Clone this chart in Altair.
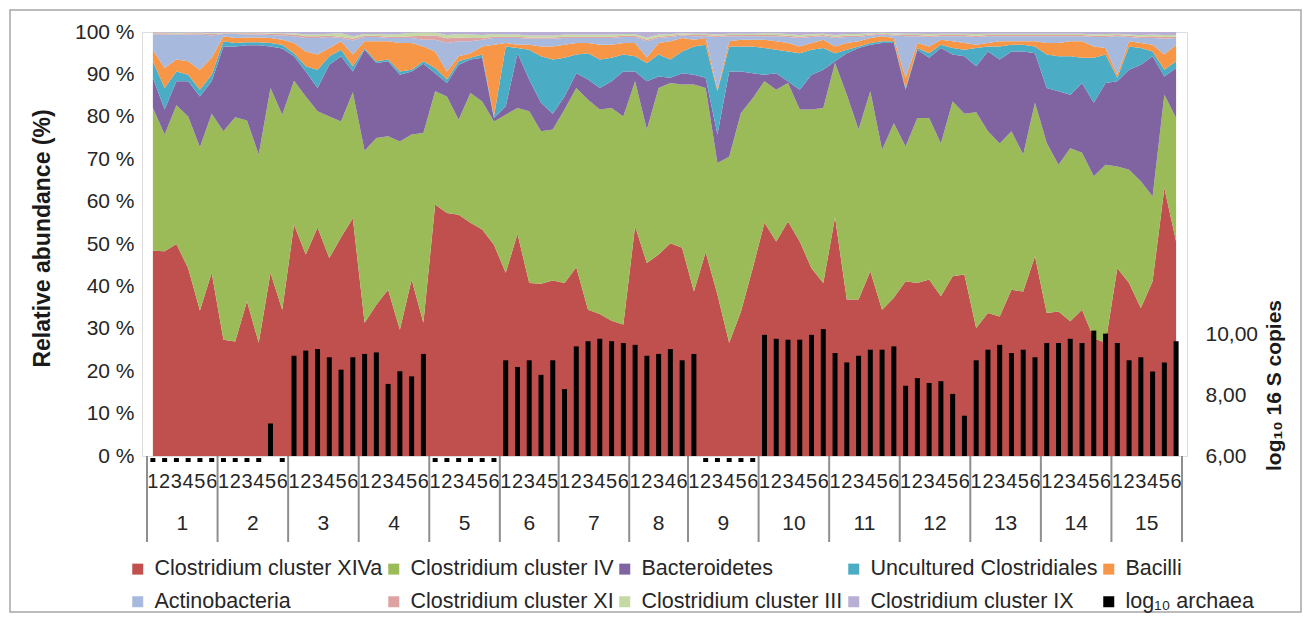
import altair as alt
import pandas as pd

# ---------------- data ----------------
series_names = ["Clostridium cluster XIVa", "Clostridium cluster IV", "Bacteroidetes",
                "Uncultured Clostridiales", "Bacilli", "Actinobacteria",
                "Clostridium cluster XI", "Clostridium cluster III", "Clostridium cluster IX"]
archaea_name = "log₁₀ archaea"
series_colors = ["#C0504D", "#9BBB59", "#8064A2", "#4BACC6", "#F79646",
                 "#A7B9DC", "#DDA3A2", "#C5D9A5", "#B9AED3"]
archaea_color = "#000000"

group_names = [str(i) for i in range(1, 16)]
group_sizes = [6, 6, 6, 6, 6, 5, 6, 5, 6, 6, 6, 6, 6, 6, 6]
sample_labels = [1, 2, 3, 4, 5, 6, 1, 2, 3, 4, 5, 6, 1, 2, 3, 4, 5, 6,
                 1, 2, 3, 4, 5, 6, 1, 2, 3, 4, 5, 6, 1, 2, 3, 4, 5,
                 1, 2, 3, 4, 5, 6, 1, 2, 3, 4, 6,
                 1, 2, 3, 4, 5, 6, 1, 2, 3, 4, 5, 6, 1, 2, 3, 4, 5, 6,
                 1, 2, 3, 4, 5, 6, 1, 2, 3, 4, 5, 6, 1, 2, 3, 4, 5, 6,
                 1, 2, 3, 4, 5, 6]

# cumulative upper edges (%) of each stacked layer, read per sample
top_xiva = [48.4, 48.3, 50.0, 44.3, 34.3, 43.2, 27.4, 27.0, 36.5, 26.7, 43.2, 34.5, 54.6, 47.5, 53.9, 46.7, 51.6, 56.1, 31.4, 35.7, 39.2, 29.8,
            41.6, 31.4, 59.3, 57.3, 56.9, 55.0, 53.4, 49.8, 43.2, 52.4, 40.8, 40.6, 41.4, 40.8, 44.5, 34.5, 33.5, 31.9, 31.0, 54.2, 45.5, 47.5,
            50.2, 49.1, 38.8, 48.1, 38.1, 26.7, 34.1, 44.3, 55.0, 50.6, 55.3, 50.6, 44.3, 40.8, 56.3, 36.9, 36.9, 43.6, 34.5, 37.3, 41.2, 40.8,
            41.6, 37.7, 42.4, 42.8, 30.2, 33.7, 32.9, 39.2, 38.8, 47.1, 33.7, 34.1, 31.8, 34.5, 27.8, 26.7, 44.3, 40.8, 34.9, 41.2, 63.2, 50.6]
top_iv = [82.1, 75.8, 82.7, 80.1, 72.8, 80.7, 76.6, 79.9, 79.1, 71.1, 86.8, 80.5, 88.5, 84.8, 81.3, 80.1, 78.9, 85.8, 72.0, 75.0, 75.4, 74.2,
          75.8, 76.2, 86.0, 84.8, 79.3, 85.6, 83.6, 78.9, 80.5, 82.1, 81.3, 76.6, 77.0, 81.7, 86.8, 84.0, 81.7, 82.1, 80.1, 88.4, 77.0, 86.8,
          88.0, 87.6, 87.6, 86.8, 69.1, 70.6, 80.9, 84.4, 88.4, 86.4, 88.0, 81.7, 81.7, 82.1, 92.7, 85.2, 77.0, 86.0, 72.2, 78.5, 73.0, 79.7,
          79.7, 73.7, 83.6, 80.7, 81.1, 76.6, 73.7, 76.6, 71.1, 83.3, 73.8, 68.7, 72.6, 71.5, 66.0, 68.7, 68.3, 67.5, 64.8, 61.2, 85.2, 79.7]
top_bact = [89.2, 81.7, 88.4, 88.4, 84.8, 88.4, 96.6, 96.6, 96.9, 96.9, 96.6, 96.1, 94.3, 90.7, 86.8, 92.3, 94.3, 90.7, 95.8, 92.7, 93.1, 89.9,
            90.7, 92.5, 90.3, 88.0, 92.3, 93.5, 93.9, 79.7, 82.5, 95.0, 88.8, 83.3, 80.7, 84.8, 90.3, 88.8, 86.8, 88.4, 90.7, 90.7, 88.4, 89.5,
            89.2, 90.3, 89.9, 89.2, 75.8, 90.7, 90.7, 90.3, 89.9, 90.3, 88.4, 86.4, 89.9, 91.1, 93.1, 95.0, 96.2, 97.0, 97.4, 97.4, 86.4, 95.8,
            93.9, 96.2, 94.7, 94.3, 91.9, 95.4, 93.5, 95.4, 95.4, 95.0, 86.8, 86.0, 85.2, 88.0, 83.3, 88.0, 88.4, 91.1, 92.3, 94.3, 89.5, 91.5]
top_uncult = [93.1, 86.8, 90.7, 89.9, 86.4, 89.9, 97.8, 97.4, 97.6, 97.6, 97.4, 97.0, 95.0, 91.9, 91.1, 94.3, 95.8, 91.9, 96.1, 93.1, 93.5, 90.7,
              91.1, 93.1, 91.5, 88.8, 93.1, 93.9, 94.7, 80.1, 96.6, 96.2, 95.8, 94.3, 93.5, 93.9, 94.7, 95.0, 93.5, 93.9, 94.7, 94.3, 92.7, 94.7,
              93.5, 95.4, 96.6, 97.0, 86.0, 96.6, 96.6, 96.6, 96.2, 95.8, 95.4, 95.0, 95.8, 96.2, 95.0, 95.8, 96.6, 97.4, 97.8, 97.8, 86.8, 96.2,
              95.0, 97.0, 96.2, 95.8, 96.2, 96.6, 96.6, 97.0, 97.0, 96.6, 94.7, 94.3, 94.3, 93.9, 93.9, 94.7, 89.2, 96.6, 96.2, 95.4, 91.1, 93.1]
top_bacilli = [95.8, 91.5, 93.5, 93.1, 91.1, 93.9, 99.0, 98.6, 98.7, 98.7, 98.6, 98.2, 97.4, 95.4, 94.7, 96.2, 97.8, 94.7, 97.8, 97.8, 97.8, 97.4,
               97.4, 96.6, 95.4, 90.7, 94.3, 95.0, 96.6, 97.0, 97.4, 97.0, 97.0, 96.6, 96.6, 97.0, 97.4, 97.4, 97.0, 97.0, 97.4, 97.4, 94.0, 97.4,
               97.8, 98.6, 98.2, 98.6, 86.4, 97.8, 98.2, 98.2, 98.2, 97.8, 97.4, 96.6, 97.4, 98.2, 96.6, 97.4, 97.8, 98.6, 99.0, 98.6, 89.2, 97.4,
               96.6, 98.2, 97.8, 97.4, 97.0, 97.4, 97.8, 97.8, 97.8, 97.8, 97.4, 97.4, 97.8, 97.8, 96.6, 96.2, 89.9, 97.8, 97.4, 97.0, 94.7, 97.0]
top_actino = [99.4, 99.4, 99.4, 99.4, 99.4, 99.2, 99.5, 99.5, 99.4, 99.4, 99.3, 99.2, 99.0, 98.6, 98.6, 98.8, 98.6, 98.0, 98.8, 98.8, 98.6, 98.6,
              98.6, 98.2, 98.2, 97.4, 97.8, 97.8, 98.2, 98.6, 98.6, 98.6, 98.4, 98.4, 98.4, 98.6, 98.6, 98.6, 98.6, 98.6, 98.8, 98.8, 97.8, 98.6,
              98.8, 99.2, 99.0, 99.0, 98.8, 99.0, 99.0, 99.0, 99.0, 99.0, 98.8, 98.6, 98.8, 99.0, 98.6, 98.8, 98.8, 99.2, 99.4, 99.2, 99.0, 99.0,
              98.8, 99.0, 99.0, 99.0, 98.8, 99.0, 99.0, 99.0, 99.0, 99.0, 99.0, 99.0, 99.0, 99.0, 98.8, 98.8, 99.0, 98.8, 98.6, 98.6, 98.4, 98.6]
xi_values = [0.3, 0.3, 0.2, 0.3, 0.3, 0.3, 0.2, 0.2, 0.3, 0.3, 0.3,
             0.3, 0.4, 0.4, 0.4, 0.3, 0.3, 0.4, 0.3, 0.3, 0.3, 0.3,
             0.4, 0.9, 1.0, 1.1, 0.9, 0.8, 0.4, 0.3, 0.3, 0.3, 0.3,
             0.3, 0.3, 0.3, 0.3, 0.3, 0.3, 0.3, 0.3, 0.3, 0.4, 0.3,
             0.3, 0.2, 0.3, 0.3, 0.3, 0.3, 0.3, 0.3, 0.3, 0.3, 0.3,
             0.3, 0.3, 0.3, 0.3, 0.3, 0.3, 0.2, 0.2, 0.2, 0.3, 0.3,
             0.3, 0.3, 0.3, 0.3, 0.3, 0.3, 0.3, 0.3, 0.3, 0.3, 0.3,
             0.3, 0.3, 0.3, 0.3, 0.3, 0.3, 0.3, 0.3, 0.4, 0.4, 0.3]
iii_values = [0.2, 0.2, 0.2, 0.2, 0.2, 0.2, 0.1, 0.2, 0.2, 0.2, 0.2,
              0.2, 0.3, 0.4, 0.4, 0.5, 0.8, 0.6, 0.4, 0.4, 0.5, 0.6,
              0.8, 0.8, 0.7, 0.8, 0.8, 0.8, 0.7, 0.6, 0.5, 0.5, 0.5,
              0.5, 0.5, 0.5, 0.5, 0.5, 0.5, 0.5, 0.4, 0.4, 0.5, 0.5,
              0.4, 0.3, 0.3, 0.3, 0.3, 0.3, 0.3, 0.3, 0.4, 0.4, 0.4,
              0.4, 0.4, 0.3, 0.4, 0.4, 0.4, 0.3, 0.2, 0.3, 0.3, 0.3,
              0.4, 0.3, 0.3, 0.3, 0.4, 0.3, 0.3, 0.3, 0.3, 0.3, 0.3,
              0.3, 0.3, 0.3, 0.3, 0.4, 0.3, 0.3, 0.4, 0.4, 0.5, 0.4]

# log10 archaea copies per sample (None = not detected)
archaea = [None, None, None, None, None, None,
           None, None, None, None, 7.07, None,
           9.31, 9.48, 9.53, 9.26, 8.85, 9.26,
           9.37, 9.42, 8.38, 8.80, 8.63, 9.37,
           None, None, None, None, None, None,
           9.16, 8.94, 9.16, 8.68, 9.16,
           8.21, 9.62, 9.79, 9.87, 9.79, 9.73,
           9.67, 9.31, 9.37, 9.53, 9.16,
           9.37, None, None, None, None, None,
           10.00, 9.87, 9.84, 9.84, 10.00, 10.19,
           9.40, 9.09, 9.31, 9.51, 9.51, 9.62,
           8.32, 8.57, 8.41, 8.47, 8.05, 7.33,
           9.16, 9.51, 9.67, 9.40, 9.51, 9.26,
           9.73, 9.73, 9.87, 9.73, 10.14, 10.04,
           9.73, 9.16, 9.26, 8.79, 9.09, 9.79]

left_ticks = [0, 10, 20, 30, 40, 50, 60, 70, 80, 90, 100]
right_ticks = [6, 8, 10]

# ---------------- build tables ----------------
n = len(sample_labels)
rows = []
for i in range(n):
    edges = [0.0, top_xiva[i], top_iv[i], top_bact[i], top_uncult[i], top_bacilli[i], top_actino[i]]
    vals = [edges[k + 1] - edges[k] for k in range(6)]
    vals.append(xi_values[i])
    vals.append(iii_values[i])
    vals.append(max(0.0, 100.0 - top_actino[i] - xi_values[i] - iii_values[i]))
    for k, name in enumerate(series_names):
        rows.append({"idx": i, "series": name, "ord": k, "value": max(0.0, vals[k])})
area_df = pd.DataFrame(rows)

bar_df = pd.DataFrame({"idx": list(range(n)), "arch": archaea, "series": archaea_name})
present_df = bar_df[bar_df["arch"].notna()]
missing_df = bar_df[bar_df["arch"].isna()]

lab_df = pd.DataFrame({"idx": list(range(n)), "lab": [str(s) for s in sample_labels]})
centers, bounds = [], []
pos = 0
for s in group_sizes:
    centers.append(pos + (s - 1) / 2)
    bounds.append(pos - 0.5)
    pos += s
bounds.append(pos - 0.5)
grp_df = pd.DataFrame({"c": centers, "g": group_names})
bnd_df = pd.DataFrame({"b": bounds})

W, H = 1045, 424
FONT = "Liberation Sans"
xscale = alt.Scale(domain=[-0.5, n - 0.5], nice=False, zero=False)
color_scale = alt.Scale(domain=series_names + [archaea_name], range=series_colors + [archaea_color])

frame = alt.Chart(pd.DataFrame({"a": [0]})).mark_rect(
    fillOpacity=0, stroke="#a6a6a6", strokeWidth=1.5
).encode(x=alt.value(-132), x2=alt.value(W + 114), y=alt.value(-22), y2=alt.value(H + 156))

area = alt.Chart(area_df).mark_area(opacity=1, interpolate="linear").encode(
    x=alt.X("idx:Q", scale=xscale, axis=None),
    y=alt.Y("value:Q", stack="normalize",
            scale=alt.Scale(domain=[0, 1], nice=False),
            axis=alt.Axis(values=[v / 100 for v in left_ticks],
                          labelExpr="format(datum.value*100, 'd') + ' %'",
                          title="Relative abundance (%)", titleFontSize=23, titleFontWeight="bold",
                          titleX=-88, titleY=206, titleAngle=270,
                          labelFontSize=21, labelPadding=8, ticks=False, domain=False, grid=False,
                          labelColor="#262626", titleColor="#1a1a1a")),
    color=alt.Color("series:N", scale=color_scale,
                    legend=alt.Legend(orient="none", legendX=-15, legendY=526, columns=5,
                                      direction="horizontal", title=None, symbolType="square",
                                      symbolSize=121, symbolStrokeWidth=0, symbolOpacity=1,
                                      labelFontSize=21.5, labelFont=FONT, labelOffset=6,
                                      labelLimit=400, columnPadding=0, rowPadding=10,
                                      labelColor="#262626", padding=0)),
    order=alt.Order("ord:Q", sort="ascending"),
)

bars = alt.Chart(present_df).mark_bar(size=5).encode(
    x=alt.X("idx:Q", scale=xscale, axis=None),
    y=alt.Y("arch:Q", scale=alt.Scale(domain=[6, 20], nice=False, zero=False),
            axis=alt.Axis(orient="right", values=right_ticks,
                          labelExpr="replace(format(datum.value, '.2f'), '.', ',')",
                          title="log₁₀ 16 S copies", titleFontSize=21, titleFontWeight="bold",
                          titleAngle=270, titleX=97, titleY=353,
                          labelFontSize=21, labelPadding=18, ticks=False, domain=False, grid=False,
                          labelColor="#262626", titleColor="#1a1a1a")),
    y2=alt.datum(6),
    color=alt.Color("series:N", scale=color_scale),
)

dashes = alt.Chart(missing_df).mark_bar(size=5, color="#000000").encode(
    x=alt.X("idx:Q", scale=xscale, axis=None),
    y=alt.value(H + 2), y2=alt.value(H + 6),
)

digits = alt.Chart(lab_df).mark_text(fontSize=20, font=FONT, color="#262626", baseline="middle").encode(
    x=alt.X("idx:Q", scale=xscale, axis=None), y=alt.value(H + 26), text="lab:N")

gnums = alt.Chart(grp_df).mark_text(fontSize=21, font=FONT, color="#262626", baseline="middle").encode(
    x=alt.X("c:Q", scale=xscale, axis=None), y=alt.value(H + 68), text="g:N")

seps = alt.Chart(bnd_df).mark_rule(color="#8f8f8f", strokeWidth=2).encode(
    x=alt.X("b:Q", scale=xscale, axis=None), y=alt.value(H), y2=alt.value(H + 86))

chart = alt.layer(frame, area, bars, dashes, digits, gnums, seps).resolve_scale(
    y="independent"
).properties(
    width=W, height=H,
    padding={"left": 134, "top": 24, "right": 117, "bottom": 160},
    autosize=alt.AutoSizeParams(type="none"),
).configure_view(
    stroke="#8c8c8c", strokeWidth=2
).configure(font=FONT)

chart.save("out.html", embed_options={"renderer": "svg", "actions": False})
